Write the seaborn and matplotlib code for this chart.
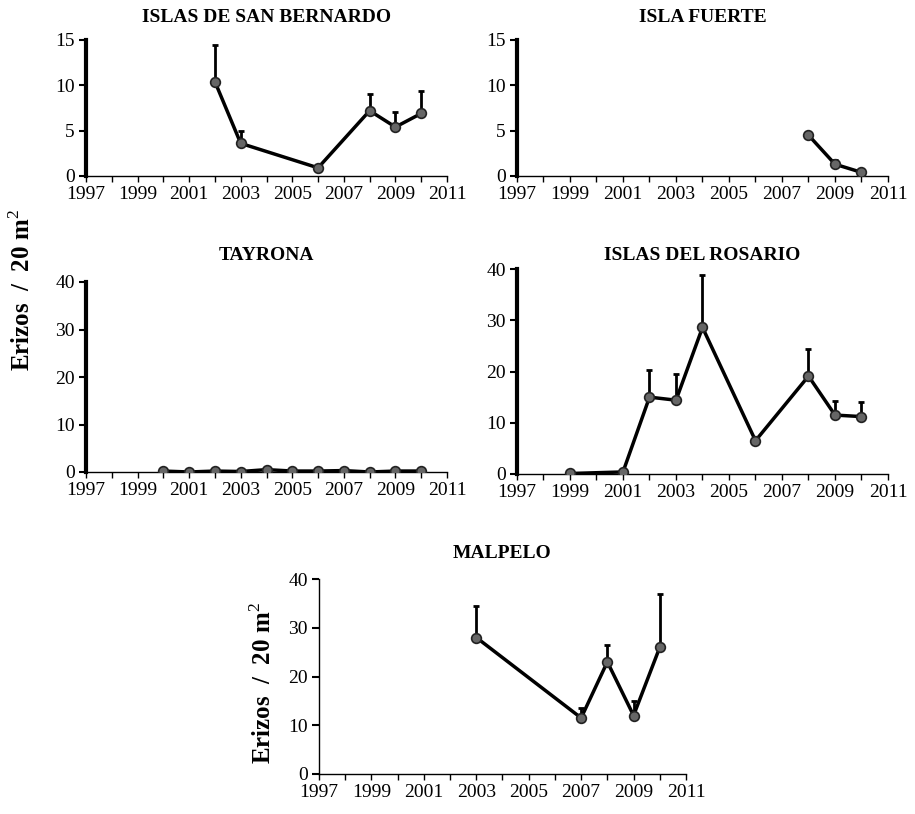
import numpy as np
import pandas as pd
import matplotlib
matplotlib.use("Agg")
import matplotlib.pyplot as plt
import seaborn as sns

# ---- data ----
sb_years = [2002, 2003, 2006, 2008, 2009, 2010]
sb_mean = [10.4, 3.6, 0.9, 7.2, 5.4, 6.9]
sb_err = [4.1, 1.4, 0.2, 1.8, 1.7, 2.5]

if_years = [2008, 2009, 2010]
if_mean = [4.5, 1.3, 0.4]
if_err = [0.4, 0.5, 0.2]

ty_years = [2000, 2001, 2002, 2003, 2004, 2005, 2006, 2007, 2008, 2009, 2010]
ty_mean = [0.2, 0.0, 0.2, 0.1, 0.5, 0.2, 0.2, 0.3, 0.0, 0.2, 0.2]
ty_err = [0.3, 0.2, 0.3, 0.2, 0.4, 0.2, 0.2, 0.3, 0.2, 0.2, 0.2]

ro_years = [1999, 2001, 2002, 2003, 2004, 2006, 2008, 2009, 2010]
ro_mean = [0.1, 0.4, 15.0, 14.4, 28.6, 6.5, 19.1, 11.5, 11.2]
ro_err = [0.2, 0.3, 5.3, 5.1, 10.2, 0.5, 5.2, 2.8, 2.8]

ma_years = [2003, 2007, 2008, 2009, 2010]
ma_mean = [28.0, 11.5, 23.0, 12.0, 26.0]
ma_err = [6.5, 2.0, 3.5, 3.0, 11.0]

titles = ["ISLAS DE SAN BERNARDO", "ISLA FUERTE", "TAYRONA",
          "ISLAS DEL ROSARIO", "MALPELO"]
ylims = [15, 15, 40, 40, 40]
ysteps = [5, 5, 10, 10, 10]
xlabels_years = [1997, 1999, 2001, 2003, 2005, 2007, 2009, 2011]
ylabel_text = "Erizos  /  20 m$^{2}$"

sns.set_style("ticks")
plt.rcParams["font.family"] = ["Liberation Serif", "DejaVu Serif"]
plt.rcParams["mathtext.fontset"] = "custom"
plt.rcParams["mathtext.rm"] = "Liberation Serif"
plt.rcParams["mathtext.bf"] = "Liberation Serif:bold"
for k in ["text.color", "axes.edgecolor", "xtick.color", "ytick.color", "axes.labelcolor"]:
    plt.rcParams[k] = "black"

fig = plt.figure(figsize=(9.15, 8.14), dpi=100)

W, H = 915.0, 814.0
# pixel boxes: left, right, y of 0, y of top, y of title centre
boxes = [
    (86, 447, 176, 40, 17),
    (517, 888, 176, 40, 17),
    (86, 447, 472, 282, 255),
    (517, 888, 474, 269, 255),
    (319, 686, 774, 579, 553),
]
left_lw = [3, 3, 3, 3, 1]
series = [
    (sb_years, sb_mean, sb_err),
    (if_years, if_mean, if_err),
    (ty_years, ty_mean, ty_err),
    (ro_years, ro_mean, ro_err),
    (ma_years, ma_mean, ma_err),
]

for box, lw_l, (yrs, mean, err), title, ymax, ystep in zip(boxes, left_lw, series, titles, ylims, ysteps):
    l, r, y0, yt, ytitle = box
    ax = fig.add_axes([l / W, 1 - y0 / H, (r - l) / W, (y0 - yt) / H])
    df = pd.DataFrame({"year": yrs, "mean": mean})
    ax.errorbar(yrs, mean, yerr=[np.zeros(len(err)), err], fmt="none",
                ecolor="black", elinewidth=2, capsize=2.5, capthick=2, zorder=2)
    sns.lineplot(data=df, x="year", y="mean", ax=ax, color="black", lw=2.5,
                 marker="o", markersize=7, markerfacecolor="#666666",
                 markeredgecolor="#222222", markeredgewidth=1.2, zorder=3)
    ax.set_xlim(1997, 2011)
    ax.set_ylim(0, ymax)
    ax.set_xticks(xlabels_years)
    ax.set_xticks(range(1997, 2012), minor=True)
    ax.set_xticklabels([str(y) for y in xlabels_years], fontsize=14)
    yt_vals = np.arange(0, ymax + 1, ystep)
    ax.set_yticks(yt_vals)
    ax.set_yticklabels([str(int(v)) for v in yt_vals], fontsize=14)
    ax.set_xlabel("")
    ax.set_ylabel("")
    fig.text((l + r) / 2 / W, 1 - ytitle / H, title, ha="center", va="center",
             fontsize=14, fontweight="bold")
    for s in ["top", "right"]:
        ax.spines[s].set_visible(False)
    ax.spines["left"].set_linewidth(lw_l)
    ax.spines["bottom"].set_linewidth(1)
    ax.tick_params(axis="y", direction="out", length=5, width=1.5, pad=3)
    ax.tick_params(axis="x", which="both", direction="out", length=4, width=1, pad=3)

fig.text(22 / W, 1 - 290 / H, ylabel_text, rotation=90, ha="center", va="center",
         fontsize=18, fontweight="bold")
fig.text(263 / W, 1 - 683 / H, ylabel_text, rotation=90, ha="center", va="center",
         fontsize=18, fontweight="bold")

fig.savefig("out.png", dpi=100)
